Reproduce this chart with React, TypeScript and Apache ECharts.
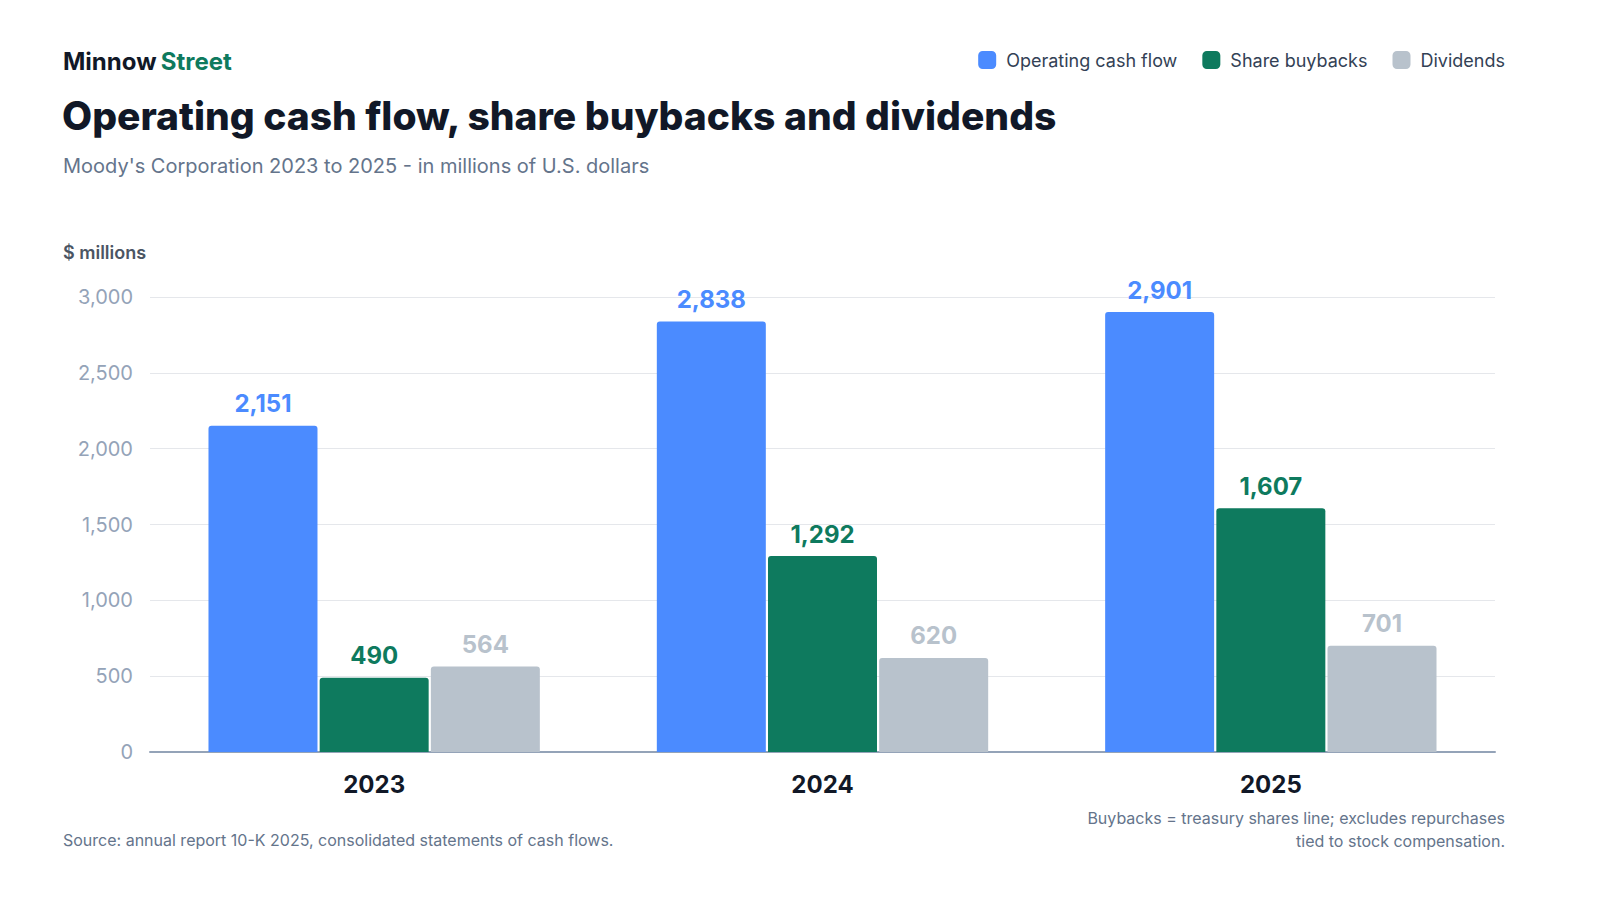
import { useEffect, useRef } from "react";
import * as echarts from "echarts";

const years = ["2023", "2024", "2025"];
const operatingCashFlow = [2151, 2838, 2901];
const shareBuybacks = [490, 1292, 1607];
const dividends = [564, 620, 701];
const seriesNames = ["Operating cash flow", "Share buybacks", "Dividends"];
const seriesColors = ["#4B8BFF", "#0E7A5E", "#B8C2CC"];

const FONT = "Inter, 'Noto Sans', sans-serif";

const App = () => {
  const chartRef = useRef<HTMLDivElement>(null);

  useEffect(() => {
    if (!chartRef.current) return;
    const chart = echarts.init(chartRef.current, null, { renderer: "svg" });
    const values = [operatingCashFlow, shareBuybacks, dividends];

    const option = {
      animation: false,
      backgroundColor: "#ffffff",
      textStyle: { fontFamily: FONT },
      title: [
        {
          text: "{a|Minnow} {b|Street}",
          left: 63,
          top: 49,
          padding: 0,
          textStyle: {
            rich: {
              a: { fontFamily: FONT, fontSize: 24, fontWeight: 700, color: "#111827" },
              b: { fontFamily: FONT, fontSize: 24, fontWeight: 700, color: "#0E7A5E" },
            },
          },
        },
        {
          text: "Operating cash flow, share buybacks and dividends",
          left: 62,
          top: 96,
          padding: 0,
          textStyle: { fontFamily: FONT, fontSize: 39, fontWeight: 800, color: "#111827" },
        },
        {
          text: "Moody's Corporation 2023 to 2025 - in millions of U.S. dollars",
          left: 63,
          top: 156,
          padding: 0,
          textStyle: { fontFamily: FONT, fontSize: 20, fontWeight: 400, color: "#64748B" },
        },
        {
          text: "$ millions",
          left: 63,
          top: 243,
          padding: 0,
          textStyle: { fontFamily: FONT, fontSize: 18, fontWeight: 600, color: "#4B5563" },
        },
        {
          text: "Source: annual report 10-K 2025, consolidated statements of cash flows.",
          left: 63,
          top: 832,
          padding: 0,
          textStyle: { fontFamily: FONT, fontSize: 16, fontWeight: 400, color: "#64748B" },
        },
      ],
      graphic: [
        {
          type: "text",
          x: 1505,
          y: 806,
          style: {
            text: "Buybacks = treasury shares line; excludes repurchases\ntied to stock compensation.",
            align: "right",
            verticalAlign: "top",
            font: `400 16px ${FONT}`,
            fill: "#64748B",
            lineHeight: 23,
          },
        },
      ],
      legend: {
        right: 95,
        top: 51,
        padding: 0,
        itemWidth: 18,
        itemHeight: 18,
        itemGap: 25,
        icon: "roundRect",
        textStyle: { fontFamily: FONT, fontSize: 18, color: "#334155", padding: [0, 0, 0, 5] },
        data: seriesNames,
      },
      grid: { left: 150, right: 105, top: 297, bottom: 148, containLabel: false },
      xAxis: {
        type: "category",
        data: years,
        axisLine: { lineStyle: { color: "#94A3B8", width: 2 } },
        axisTick: { show: false },
        axisLabel: {
          fontFamily: FONT,
          fontSize: 24,
          fontWeight: 700,
          color: "#111827",
          margin: 20,
        },
      },
      yAxis: {
        type: "value",
        min: 0,
        max: 3000,
        interval: 500,
        axisLine: { show: false },
        axisTick: { show: false },
        splitLine: { lineStyle: { color: "#E5E7EB", width: 1 } },
        axisLabel: {
          fontFamily: FONT,
          fontSize: 20,
          color: "#94A3B8",
          margin: 17,
          formatter: (v: number) => v.toLocaleString("en-US"),
        },
      },
      series: seriesNames.map((name, i) => ({
        name,
        type: "bar",
        data: values[i],
        barWidth: 109,
        barGap: "2%",
        itemStyle: { color: seriesColors[i], borderRadius: [3, 3, 0, 0] },
        label: {
          show: true,
          position: "top",
          distance: 10,
          fontFamily: FONT,
          fontSize: 24,
          fontWeight: 700,
          color: seriesColors[i],
          formatter: (p: { value: number }) => p.value.toLocaleString("en-US"),
        },
      })),
    };

    chart.setOption(option);
    return () => {
      chart.dispose();
    };
  }, []);

  return (
    <div
      ref={chartRef}
      style={{ position: "fixed", left: 0, top: 0, width: 1600, height: 900 }}
    />
  );
};

export default App;
